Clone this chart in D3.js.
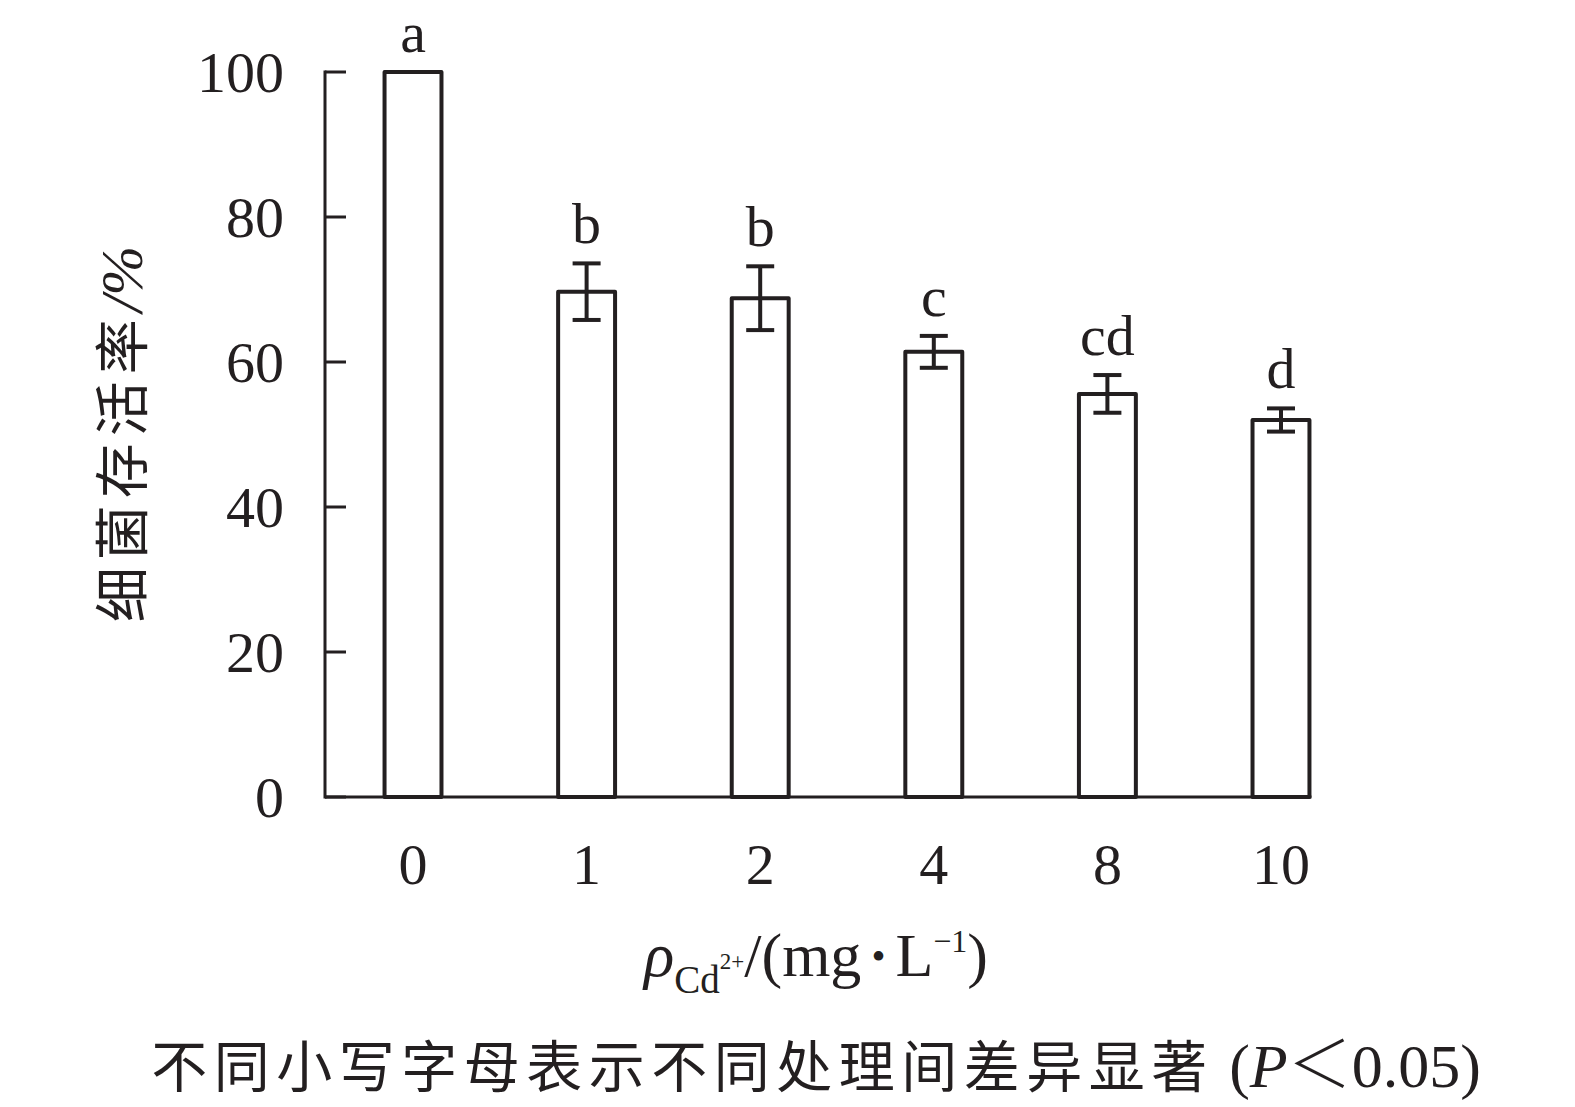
<!DOCTYPE html>
<html><head><meta charset="utf-8">
<script src="https://cdn.jsdelivr.net/npm/d3@7"></script>
<style>
body{margin:0;background:#fff;}
svg{display:block;}
</style></head>
<body>
<svg id="chart" width="1575" height="1107"></svg>
<script>
const categories = ["0", "1", "2", "4", "8", "10"];
const values = [100, 69.7, 68.8, 61.4, 55.6, 52.0];
const errors = [0, 3.9, 4.4, 2.2, 2.6, 1.6];
const letters = ["a", "b", "b", "c", "cd", "d"];
const yTicks = [0, 20, 40, 60, 80, 100];

const ink = "#231f20";
const serif = "'Liberation Serif','Times New Roman',serif";
const cjk = "'Noto Sans CJK SC','Noto Sans CJK JP',sans-serif";

const svg = d3.select("#chart");
const y = d3.scaleLinear().domain([0, 100]).range([797, 72]);
const x = d3.scaleBand().domain(categories).range([325, 1369])
  .paddingInner(0.672).paddingOuter(0.343);

// axes lines
const xEnd = x(categories[categories.length - 1]) + x.bandwidth() + 2;
svg.append("line").attr("x1", 325).attr("x2", xEnd).attr("y1", y(0)).attr("y2", y(0))
  .attr("stroke", ink).attr("stroke-width", 3);
svg.append("line").attr("x1", 325).attr("x2", 325).attr("y1", y(0) + 1.5).attr("y2", y(100) - 1.5)
  .attr("stroke", ink).attr("stroke-width", 3);

// y ticks (inward) and labels
svg.selectAll(".yt").data(yTicks).enter().append("line")
  .attr("x1", 325).attr("x2", 346).attr("y1", d => y(d)).attr("y2", d => y(d))
  .attr("stroke", ink).attr("stroke-width", 3);
svg.selectAll(".yl").data(yTicks).enter().append("text")
  .attr("x", 284).attr("y", d => y(d)).attr("dy", "0.34em")
  .attr("text-anchor", "end").attr("font-family", serif).attr("font-size", 58)
  .attr("fill", ink).text(d => d);

// bars
svg.selectAll(".bar").data(values).enter().append("rect")
  .attr("x", (d, i) => x(categories[i])).attr("width", x.bandwidth())
  .attr("y", d => y(d)).attr("height", d => y(0) - y(d))
  .attr("fill", "#fff").attr("stroke", ink).attr("stroke-width", 4)
  .attr("stroke-linejoin", "round");

// error bars
const cap = 14;
values.forEach((v, i) => {
  if (!errors[i]) return;
  const cx = x(categories[i]) + x.bandwidth() / 2;
  const g = svg.append("g").attr("stroke", ink).attr("stroke-width", 4);
  g.append("line").attr("x1", cx).attr("x2", cx).attr("y1", y(v + errors[i])).attr("y2", y(v - errors[i]));
  g.append("line").attr("x1", cx - cap).attr("x2", cx + cap).attr("y1", y(v + errors[i])).attr("y2", y(v + errors[i]));
  g.append("line").attr("x1", cx - cap).attr("x2", cx + cap).attr("y1", y(v - errors[i])).attr("y2", y(v - errors[i]));
});

// significance letters
svg.selectAll(".sig").data(values).enter().append("text")
  .attr("x", (d, i) => x(categories[i]) + x.bandwidth() / 2)
  .attr("y", (d, i) => y(d + errors[i]) - 20)
  .attr("text-anchor", "middle").attr("font-family", serif).attr("font-size", 58)
  .attr("fill", ink).text((d, i) => letters[i]);

// x tick labels
svg.selectAll(".xl").data(categories).enter().append("text")
  .attr("x", d => x(d) + x.bandwidth() / 2).attr("y", 884)
  .attr("text-anchor", "middle").attr("font-family", serif).attr("font-size", 58)
  .attr("fill", ink).text(d => d);

// y axis title
const yt = svg.append("text")
  .attr("transform", "translate(142,434) rotate(-90)")
  .attr("text-anchor", "middle").attr("fill", ink);
yt.append("tspan").attr("font-family", cjk).attr("font-size", 55).attr("letter-spacing", 7).text("细菌存活率");
yt.append("tspan").attr("font-family", serif).attr("font-style", "italic").attr("font-size", 60).text("/%");

// x axis title
const xt = svg.append("text").attr("x", 816).attr("y", 976)
  .attr("text-anchor", "middle").attr("fill", ink).attr("font-family", serif);
xt.append("tspan").attr("font-style", "italic").attr("font-size", 63).text("ρ");
xt.append("tspan").attr("font-size", 39).attr("dy", 17).text("Cd");
xt.append("tspan").attr("font-size", 23).attr("dy", -24).text("2+");
xt.append("tspan").attr("font-size", 62).attr("dy", 7).text("/(mg");
xt.append("tspan").attr("font-size", 40).attr("dy", -6).text(" • ");
xt.append("tspan").attr("font-size", 62).attr("dy", 6).text("L");
xt.append("tspan").attr("font-size", 32).attr("dy", -24).text("−1");
xt.append("tspan").attr("font-size", 62).attr("dy", 24).text(")");

// footnote
const fn = svg.append("text").attr("x", 816).attr("y", 1087)
  .attr("text-anchor", "middle").attr("fill", ink);
fn.append("tspan").attr("font-family", cjk).attr("font-size", 56).attr("letter-spacing", 6.5).text("不同小写字母表示不同处理间差异显著");
fn.append("tspan").attr("font-family", serif).attr("font-size", 62).text(" (");
fn.append("tspan").attr("font-family", serif).attr("font-style", "italic").attr("font-size", 62).text("P");
fn.append("tspan").attr("font-family", cjk).attr("font-size", 64).attr("font-weight", 300).text("＜");
fn.append("tspan").attr("font-family", serif).attr("font-size", 62).text("0.05)");
</script>
</body></html>
